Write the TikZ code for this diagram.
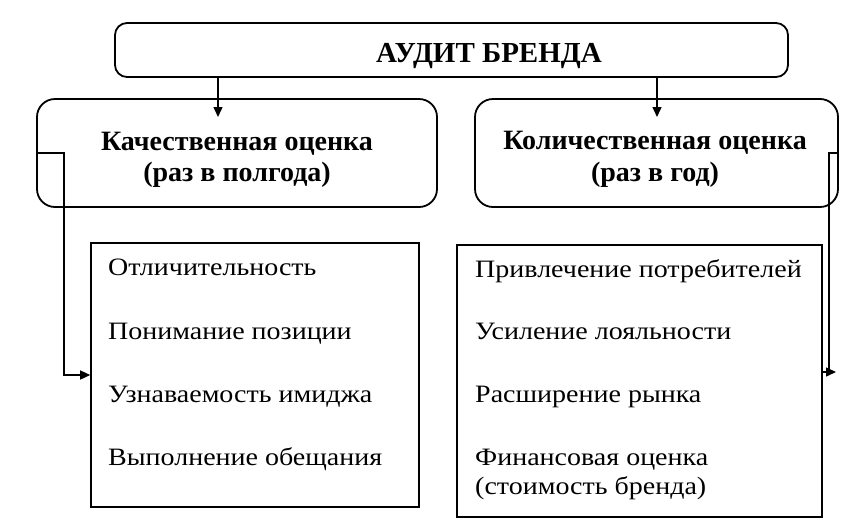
\documentclass[tikz,border=0pt]{standalone}
\usepackage{fontspec}
\setmainfont{Liberation Serif}
\newfontfamily\itemfont{Liberation Serif}[FakeStretch=1.12]
\usetikzlibrary{arrows.meta}
\begin{document}
\begin{tikzpicture}[x=1pt,y=-1pt,
  box/.style={draw, line width=1.8pt, inner sep=0pt},
  plainbox/.style={draw, line width=1.6pt, inner sep=0pt},
  conn/.style={line width=1.4pt},
  arr/.style={conn, -{Triangle[length=10pt,width=9pt]}},
  hdr/.style={font=\bfseries\fontsize{28}{32}\selectfont, anchor=base, inner sep=0pt},
  item/.style={font=\itemfont\fontsize{25}{29}\selectfont, anchor=base west, inner sep=0pt}]
\useasboundingbox (0,0) rectangle (850,520);
% boxes
\node[box, rounded corners=12pt, minimum width=673pt, minimum height=54pt] (top) at (451.5,50) {};
\node[box, rounded corners=18pt, minimum width=400pt, minimum height=108pt] (ql) at (237,153) {};
\node[box, rounded corners=18pt, minimum width=363pt, minimum height=108pt] (qr) at (656.5,153) {};
\node[plainbox, minimum width=328pt, minimum height=264pt] (il) at (255,375) {};
\node[plainbox, minimum width=365pt, minimum height=272pt] (ir) at (639.5,381) {};
% texts
\node[hdr, font=\bfseries\fontsize{29}{32}\selectfont] (title) at (489,62) {АУДИТ БРЕНДА};
\node[hdr] (ql1) at (237,150) {Качественная оценка};
\node[hdr] (ql2) at (237,181) {(раз в полгода)};
\node[hdr] (qr1) at (655,149) {Количественная оценка};
\node[hdr] (qr2) at (655,181) {(раз в год)};
\node[item] (l1) at (108,275) {Отличительность};
\node[item] (l2) at (108,339) {Понимание позиции};
\node[item] (l3) at (108,402) {Узнаваемость имиджа};
\node[item] (l4) at (108,465) {Выполнение обещания};
\node[item] (r1) at (475,277) {Привлечение потребителей};
\node[item] (r2) at (475,339) {Усиление лояльности};
\node[item] (r3) at (475,402) {Расширение рынка};
\node[item] (r4) at (475,465) {Финансовая оценка};
\node[item] (r5) at (475,494) {(стоимость бренда)};
% connectors
\coordinate (a1) at (218,117);
\coordinate (a2) at (657,117);
\draw[arr] (a1 |- top.south) -- (a1);
\draw[arr] (a2 |- top.south) -- (a2);
\coordinate (lbend) at (64,375);
\draw[arr] (ql.west) -| (lbend) -- (il.west);
\coordinate (rbend) at (829,372);
\coordinate (rtip) at (836,372);
\draw[conn] (qr.east) -| (rbend);
\draw[arr] (ir.east |- rtip) -- (rtip);
\end{tikzpicture}
\end{document}
